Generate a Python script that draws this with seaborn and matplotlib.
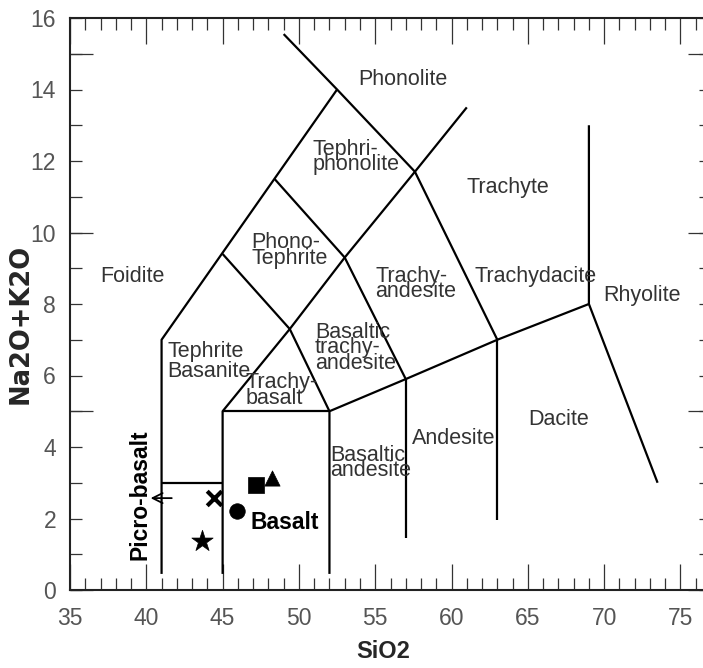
import matplotlib
matplotlib.use("Agg")
import matplotlib.pyplot as plt
from matplotlib import font_manager
from matplotlib.ticker import FixedLocator, MultipleLocator, NullFormatter, FuncFormatter
import seaborn as sns
import pandas as pd

# ---------------- data ----------------
# TAS classification boundaries (SiO2, Na2O+K2O)
boundary_x = [
    [41, 41, 52.5],
    [41, 45],
    [45, 45, 49.4, 53, 57.6, 61],
    [45, 52],
    [52, 52, 57, 63, 69],
    [57, 57],
    [63, 63],
    [69, 69, 73.5],
    [45, 49.4, 52],
    [48.4, 53, 57],
    [49, 52.5, 57.6, 63],
]
boundary_y = [
    [0.45, 7, 14],
    [3, 3],
    [0.45, 5, 7.3, 9.3, 11.7, 13.5],
    [5, 5],
    [0.45, 5, 5.9, 7, 8],
    [1.45, 5.9],
    [1.95, 7],
    [13, 8, 3.0],
    [9.4, 7.3, 5],
    [11.5, 9.3, 5.9],
    [15.55, 14, 11.7, 7],
]

# field names and label anchor (left edge, vertical centre)
field_names = ["Phonolite", "Tephri-\nphonolite", "Trachyte", "Phono-\nTephrite",
               "Foidite", "Trachy-\nandesite", "Trachydacite", "Rhyolite",
               "Basaltic\ntrachy-\nandesite", "Trachy-\nbasalt",
               "Basaltic\nandesite", "Andesite", "Dacite", "Tephrite\nBasanite"]
field_x = [53.9, 50.9, 61.0, 46.9, 37.0, 55.0, 61.5, 69.95, 51.05, 46.5, 52.05, 57.4, 65.0, 41.4]
field_y = [14.27, 12.11, 11.25, 9.5, 8.78, 8.56, 8.78, 8.25, 6.77, 5.57, 3.55, 4.25, 4.78, 6.4]

# samples
sample_id = ["S1", "S2", "S3", "S4", "S5"]
sample_sio2 = [43.66, 44.44, 45.95, 47.2, 48.25]
sample_alk = [1.37, 2.57, 2.2, 2.94, 3.13]

x_labels = [35, 40, 45, 50, 55, 60, 65, 70, 75]
y_labels = [0, 2, 4, 6, 8, 10, 12, 14, 16]

# ---------------- style ----------------
sns.set_style("white")
plt.rcParams["font.family"] = ["Liberation Sans", "DejaVu Sans"]

available = {f.name for f in font_manager.fontManager.ttflist}
if "Liberation Sans Narrow" in available:
    label_family = ["Liberation Sans Narrow", "Liberation Sans"]
    label_size, tick_size = 18.5, 18
else:
    label_family = ["Liberation Sans", "DejaVu Sans"]
    label_size, tick_size = 15.5, 16.5
em_px = label_size * 100 / 72
tight_ls = 17 / (1.17 * em_px)
wide_ls = 24 / (1.17 * em_px)

marker_of = {"S1": "*", "S2": "x", "S3": "o", "S4": "s", "S5": "^"}
size_of = {"S1": 260, "S2": 110, "S3": 125, "S4": 130, "S5": 120}

fig = plt.figure(figsize=(7.03, 6.68), dpi=100)
ax = fig.add_axes([70 / 703, 78 / 668, 641 / 703, 572 / 668])

for xs, ys in zip(boundary_x, boundary_y):
    ax.plot(xs, ys, color="black", lw=1.6, solid_capstyle="butt")

df = pd.DataFrame({"id": sample_id, "SiO2": sample_sio2, "alk": sample_alk})
for sid in sample_id:
    sub = df[df["id"] == sid]
    kw = dict(linewidth=3) if marker_of[sid] == "x" else dict(edgecolor="black", linewidth=0.5)
    sns.scatterplot(data=sub, x="SiO2", y="alk", marker=marker_of[sid], s=size_of[sid],
                    color="black", ax=ax, legend=False, zorder=5, **kw)

for name, fx, fy in zip(field_names, field_x, field_y):
    if name == "Tephrite\nBasanite":
        ls = wide_ls
    else:
        ls = tight_ls if "\n" in name else 1.0
    ax.text(fx, fy, name, ha="left", va="center", fontsize=label_size, color="#333333",
            linespacing=ls, multialignment="left", family=label_family)

ax.text(46.8, 1.9, "Basalt", ha="left", va="center", fontsize=16.5,
        fontweight="bold", color="black")
ax.text(39.6, 2.67, "Picro-basalt", rotation=90, ha="center", va="center",
        fontsize=16.5, fontweight="bold", color="black")
ax.annotate("", xy=(40.1, 2.57), xytext=(41.85, 2.57),
            arrowprops=dict(arrowstyle="->", lw=1.3, color="black", mutation_scale=18))

ax.set_xlim(35, 77)
ax.set_ylim(0, 16)

# ticks
ax.xaxis.set_major_locator(FixedLocator(x_labels))
ax.xaxis.set_minor_locator(MultipleLocator(1))
ax.yaxis.set_major_locator(FixedLocator([0, 5, 10, 15]))
ax.yaxis.set_major_formatter(NullFormatter())
ax.yaxis.set_minor_locator(FixedLocator(list(range(0, 17))))
ax.yaxis.set_minor_formatter(FuncFormatter(lambda v, p: f"{int(round(v))}" if int(round(v)) in y_labels else ""))
ax.yaxis.remove_overlapping_locs = False

ax.tick_params(axis="x", which="major", direction="in", length=18.5, width=0.9,
               top=True, bottom=True, labelsize=tick_size, labelcolor="#555555", pad=12, color="#333333")
ax.tick_params(axis="x", which="minor", direction="in", length=8.5, width=0.9,
               top=True, bottom=True, color="#333333")
ax.tick_params(axis="y", which="major", direction="in", length=16.5, width=0.9,
               left=True, right=True, color="#333333")
ax.tick_params(axis="y", which="minor", direction="in", length=8.5, width=0.9,
               left=True, right=True, labelleft=True, labelsize=tick_size, labelcolor="#555555",
               pad=10, color="#333333")
for lab in ax.get_xticklabels() + ax.get_yticklabels(which="minor"):
    lab.set_family(label_family)

for sp in ax.spines.values():
    sp.set_linewidth(1.5)
    sp.set_color("#222222")

ax.set_xlabel("SiO2", fontsize=17, fontweight="bold")
ax.set_ylabel("Na2O+K2O", fontsize=18.5, fontweight="bold", family=["DejaVu Sans"])
ax.xaxis.set_label_coords(0.488, -0.088)
ax.yaxis.set_label_coords(-0.057, 0.465)

fig.savefig("out.png", dpi=100)
